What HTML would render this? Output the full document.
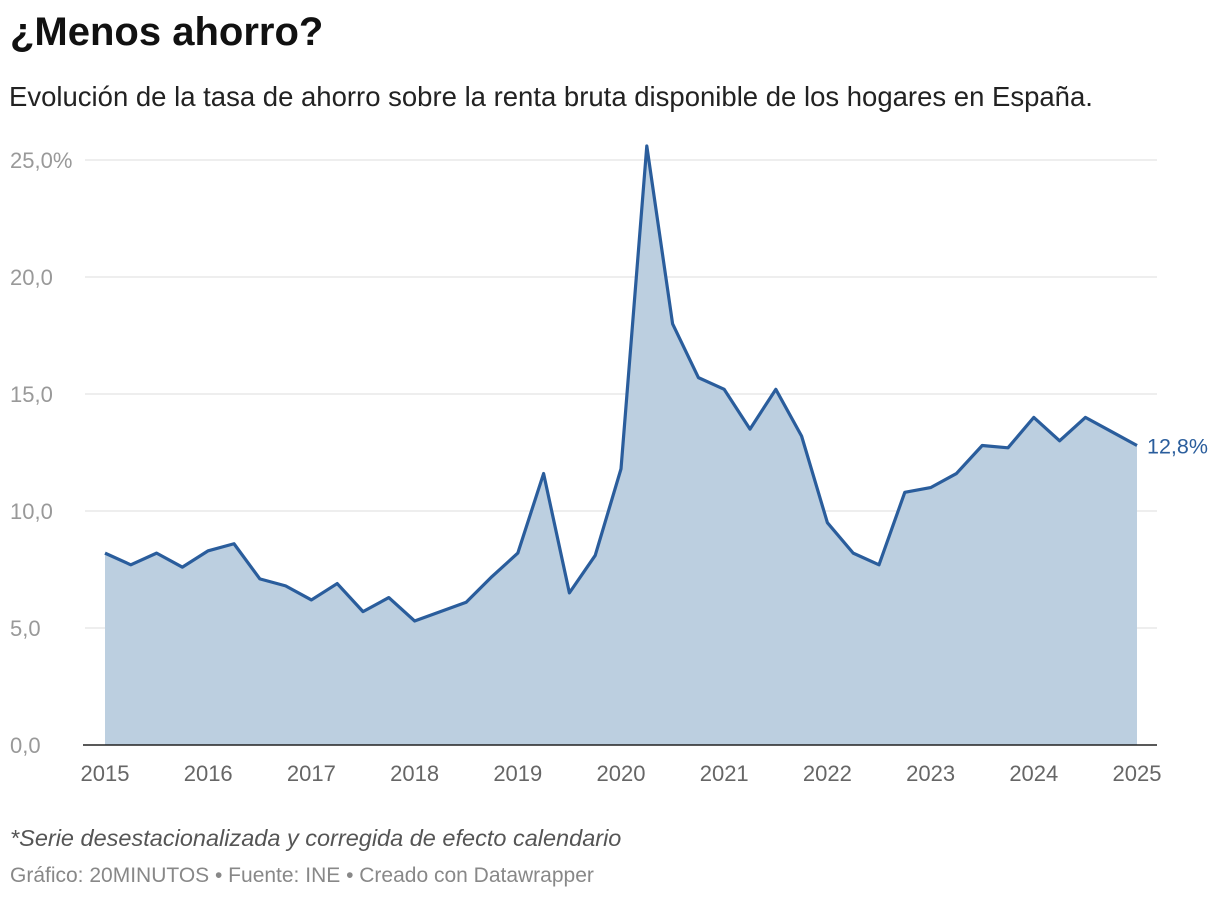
<!DOCTYPE html>
<html><head><meta charset="utf-8"><style>
body{margin:0;background:#fff;width:1220px;height:900px;overflow:hidden;font-family:"Liberation Sans",sans-serif;}
#title{position:absolute;left:10px;top:10px;font-size:40px;font-weight:bold;color:#111;}
#sub{position:absolute;left:9px;top:81px;font-size:27.5px;color:#222;white-space:nowrap;}
#note{position:absolute;left:10px;top:825px;font-size:23.5px;font-style:italic;color:#555;white-space:nowrap;}
#credit{position:absolute;left:10px;top:864px;font-size:21px;color:#888;white-space:nowrap;}
svg{position:absolute;left:0;top:0;}
</style></head><body>
<div id="title">¿Menos ahorro?</div>
<div id="sub">Evolución de la tasa de ahorro sobre la renta bruta disponible de los hogares en España.</div>
<svg id="c" width="1220" height="900"></svg>
<div id="note">*Serie desestacionalizada y corregida de efecto calendario</div>
<div id="credit">Gráfico: 20MINUTOS • Fuente: INE • Creado con Datawrapper</div>
<script>
const startYear = 2015;
const values = [8.2,7.7,8.2,7.6,8.3,8.6,7.1,6.8,6.2,6.9,5.7,6.3,5.3,5.7,6.1,7.2,8.2,11.6,6.5,8.1,11.8,25.6,18.0,15.7,15.2,13.5,15.2,13.2,9.5,8.2,7.7,10.8,11.0,11.6,12.8,12.7,14.0,13.0,14.0,13.4,12.8];
const yTicks = [0,5,10,15,20,25];
const yTickLabels = ["0,0","5,0","10,0","15,0","20,0","25,0%"];
const xTicks = [2015,2016,2017,2018,2019,2020,2021,2022,2023,2024,2025];
const NS="http://www.w3.org/2000/svg";
const svg=document.getElementById('c');
const x=t=>105+(t-2015)*103.2;
const y=v=>745-v*23.4;
function mk(tag,a){const e=document.createElementNS(NS,tag);for(const k in a)e.setAttribute(k,a[k]);svg.appendChild(e);return e;}
yTicks.forEach((t,i)=>{
 if(t>0){const g=mk('line',{x1:85,x2:1157,y1:y(t),y2:y(t),stroke:'#ddd','stroke-width':1});
 
 }
 const l=mk('text',{x:10,y:y(t)+8,'font-size':22,fill:'#999','font-family':'Liberation Sans, sans-serif'});
 l.textContent=yTickLabels[i];
 
 
});
const pts=values.map((v,i)=>[x(startYear+i/4),y(v)]);
const area=mk('path',{d:'M'+pts[0][0]+','+y(0)+pts.map(p=>'L'+p[0]+','+p[1]).join('')+'L'+pts[pts.length-1][0]+','+y(0)+'Z',fill:'#bccfe0'});


const line=mk('path',{d:'M'+pts.map(p=>p[0]+','+p[1]).join('L'),fill:'none',stroke:'#2a5d9c','stroke-width':3.2,'stroke-linejoin':'round'});


const ax=mk('line',{x1:83,x2:1157,y1:y(0),y2:y(0),stroke:'#222','stroke-width':1.5});


xTicks.forEach(t=>{
 const l=mk('text',{x:x(t),y:781,'font-size':22,fill:'#666','text-anchor':'middle','font-family':'Liberation Sans, sans-serif'});
 l.textContent=t;
 
 
});
const last=pts[pts.length-1];
const lab=mk('text',{x:last[0]+10,y:last[1]+8,'font-size':21.5,fill:'#2a5d9c','font-family':'Liberation Sans, sans-serif'});
lab.textContent=values[values.length-1].toFixed(1).replace('.',',')+'%';


</script>
</body></html>
